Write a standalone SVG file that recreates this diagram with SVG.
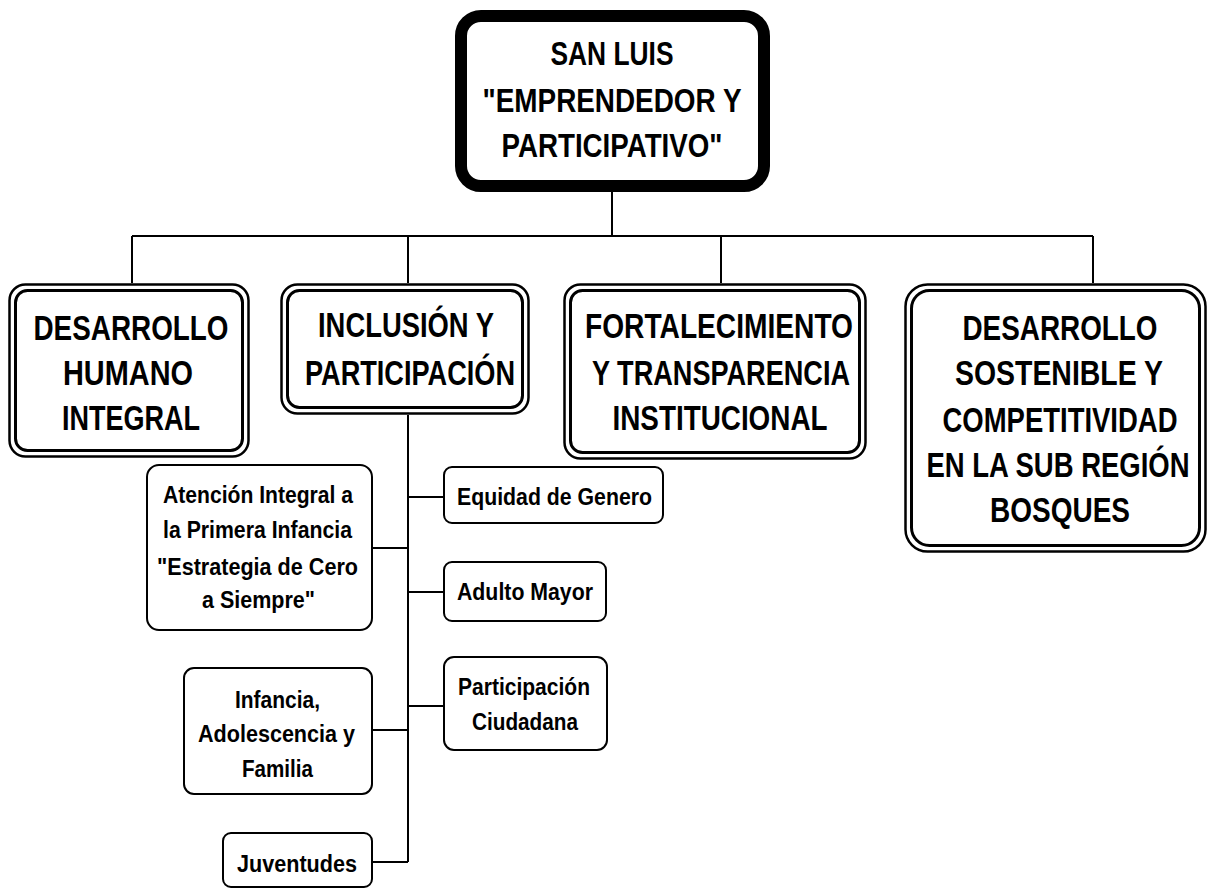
<svg xmlns="http://www.w3.org/2000/svg" width="1210" height="888" viewBox="0 0 1210 888">
<style>
text{font-family:"Liberation Sans",Arial,sans-serif;font-weight:bold;fill:#000;text-anchor:middle}
.big{font-size:35px}
.top{font-size:33px}
.sm{font-size:23px}
.o{fill:#fff;stroke:#000;stroke-width:2.5}
.i{fill:none;stroke:#000;stroke-width:3}
.s{fill:#fff;stroke:#000;stroke-width:2}
.c{fill:none;stroke:#000;stroke-width:2}
</style>
<rect width="1210" height="888" fill="#fff"/>
<g id="connectors" class="c">
<path d="M612 192V236M132 236H1093M132 236V283M408 236V283M721 236V283M1093 236V283"/>
<path d="M408 415V862M372 548H408M408 497H444M408 592H444M408 706H444M372 730H408M372 862H408"/>
</g>
<g id="root">
<rect x="461" y="16" width="303" height="170" rx="20" fill="#fff" stroke="#000" stroke-width="12"/>
<text class="top" x="612" y="65" textLength="123" lengthAdjust="spacingAndGlyphs">SAN LUIS</text>
<text class="top" x="612" y="112" textLength="259" lengthAdjust="spacingAndGlyphs">"EMPRENDEDOR Y</text>
<text class="top" x="612" y="157" textLength="221" lengthAdjust="spacingAndGlyphs">PARTICIPATIVO"</text>
</g>
<g id="desarrollo-humano">
<rect class="o" x="9.5" y="284.5" width="239" height="172" rx="16"/>
<rect class="i" x="15.5" y="290.5" width="227" height="160" rx="12"/>
<text class="big" x="131" y="340" textLength="195" lengthAdjust="spacingAndGlyphs">DESARROLLO</text>
<text class="big" x="128" y="385" textLength="130" lengthAdjust="spacingAndGlyphs">HUMANO</text>
<text class="big" x="131" y="430" textLength="138" lengthAdjust="spacingAndGlyphs">INTEGRAL</text>
</g>
<g id="inclusion">
<rect class="o" x="281.5" y="284.5" width="247" height="129" rx="16"/>
<rect class="i" x="287.5" y="290.5" width="235" height="117" rx="12"/>
<text class="big" x="406" y="337" textLength="176" lengthAdjust="spacingAndGlyphs">INCLUSIÓN Y</text>
<text class="big" x="410" y="385" textLength="210" lengthAdjust="spacingAndGlyphs">PARTICIPACIÓN</text>
</g>
<g id="fortalecimiento">
<rect class="o" x="564.5" y="284.5" width="301" height="174" rx="16"/>
<rect class="i" x="570.5" y="290.5" width="289" height="162" rx="12"/>
<text class="big" x="719" y="338" textLength="268" lengthAdjust="spacingAndGlyphs">FORTALECIMIENTO</text>
<text class="big" x="721" y="385" textLength="258" lengthAdjust="spacingAndGlyphs">Y TRANSPARENCIA</text>
<text class="big" x="720" y="430" textLength="215" lengthAdjust="spacingAndGlyphs">INSTITUCIONAL</text>
</g>
<g id="desarrollo-sostenible">
<rect class="o" x="905.5" y="284.5" width="300" height="267" rx="22"/>
<rect class="i" x="911.5" y="290.5" width="288" height="255" rx="18"/>
<text class="big" x="1060" y="340" textLength="195" lengthAdjust="spacingAndGlyphs">DESARROLLO</text>
<text class="big" x="1059" y="385" textLength="208" lengthAdjust="spacingAndGlyphs">SOSTENIBLE Y</text>
<text class="big" x="1060" y="432" textLength="235" lengthAdjust="spacingAndGlyphs">COMPETITIVIDAD</text>
<text class="big" x="1058" y="477" textLength="263" lengthAdjust="spacingAndGlyphs">EN LA SUB REGIÓN</text>
<text class="big" x="1060" y="522" textLength="140" lengthAdjust="spacingAndGlyphs">BOSQUES</text>
</g>
<g id="atencion">
<rect class="s" x="147" y="465" width="225" height="165" rx="12"/>
<text class="sm" x="258" y="503" textLength="190" lengthAdjust="spacingAndGlyphs">Atención Integral a</text>
<text class="sm" x="257.5" y="538" textLength="189" lengthAdjust="spacingAndGlyphs">la Primera Infancia</text>
<text class="sm" x="257.5" y="575" textLength="201" lengthAdjust="spacingAndGlyphs">"Estrategia de Cero</text>
<text class="sm" x="258.5" y="608" textLength="113" lengthAdjust="spacingAndGlyphs">a Siempre"</text>
</g>
<g id="equidad">
<rect class="s" x="444" y="467" width="219" height="56" rx="8"/>
<text class="sm" x="554.5" y="505" textLength="195" lengthAdjust="spacingAndGlyphs">Equidad de Genero</text>
</g>
<g id="adulto">
<rect class="s" x="444" y="562" width="162" height="59" rx="8"/>
<text class="sm" x="525" y="600" textLength="136" lengthAdjust="spacingAndGlyphs">Adulto Mayor</text>
</g>
<g id="participacion">
<rect class="s" x="444" y="657" width="163" height="93" rx="10"/>
<text class="sm" x="524" y="695" textLength="132" lengthAdjust="spacingAndGlyphs">Participación</text>
<text class="sm" x="525" y="730" textLength="106" lengthAdjust="spacingAndGlyphs">Ciudadana</text>
</g>
<g id="infancia">
<rect class="s" x="184" y="668" width="188" height="126" rx="10"/>
<text class="sm" x="277.5" y="708" textLength="85" lengthAdjust="spacingAndGlyphs">Infancia,</text>
<text class="sm" x="276.5" y="742" textLength="157" lengthAdjust="spacingAndGlyphs">Adolescencia y</text>
<text class="sm" x="277.5" y="777" textLength="71" lengthAdjust="spacingAndGlyphs">Familia</text>
</g>
<g id="juventudes">
<rect class="s" x="223" y="833" width="149" height="54" rx="8"/>
<text class="sm" x="297" y="872" textLength="120" lengthAdjust="spacingAndGlyphs">Juventudes</text>
</g>
</svg>
